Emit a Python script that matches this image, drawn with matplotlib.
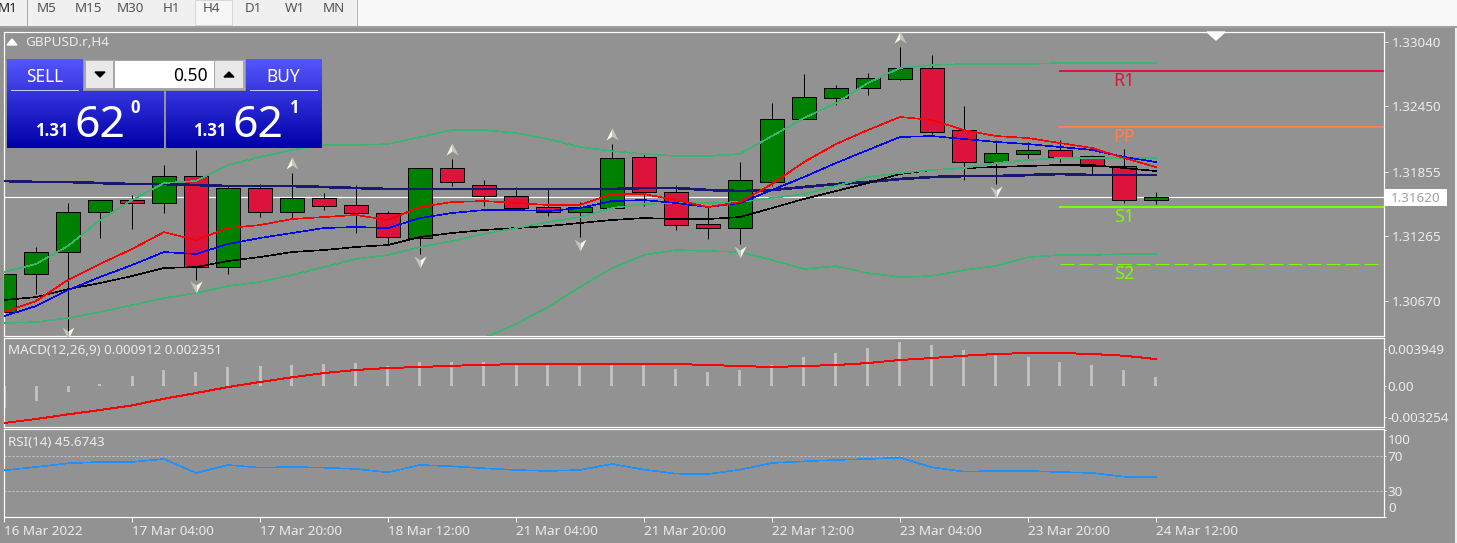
import numpy as np
import matplotlib
matplotlib.use('Agg')
import matplotlib.pyplot as plt
from matplotlib.path import Path
from matplotlib.patches import Rectangle, Polygon

plt.rcParams['font.family'] = ['Noto Sans', 'DejaVu Sans']

W, H = 1457, 543
PX = 0.72  # one pixel in points at dpi 100
THIN = 0.45  # aliased lines grow a pixel, so draw them under one
BG = '#929292'
TXT = '#ECECEC'
RED = '#DC143C'
GREEN = '#008000'
BAND = '#3CB371'

# H4 candles, GBPUSD.r
opens = [1.30574, 1.30920, 1.31121, 1.31486, 1.31595, 1.31568, 1.31814, 1.30984, 1.31705, 1.31486,
         1.31614, 1.31550, 1.31477, 1.31249, 1.31887, 1.31732, 1.31632, 1.31532, 1.31486, 1.31522,
         1.31988, 1.31668, 1.31376, 1.31340, 1.31760, 1.32335, 1.32526, 1.32618, 1.32700, 1.32800,
         1.32234, 1.31942, 1.32015, 1.32052, 1.31997, 1.31906, 1.31595]
closes = [1.30920, 1.31121, 1.31486, 1.31595, 1.31568, 1.31814, 1.30984, 1.31705, 1.31486, 1.31614,
          1.31541, 1.31477, 1.31258, 1.31887, 1.31760, 1.31632, 1.31522, 1.31486, 1.31532, 1.31979,
          1.31668, 1.31367, 1.31340, 1.31778, 1.32335, 1.32535, 1.32618, 1.32709, 1.32800, 1.32216,
          1.31942, 1.32024, 1.32052, 1.31988, 1.31906, 1.31595, 1.31623]
highs = [1.31057, 1.31167, 1.31568, 1.31595, 1.31641, 1.31915, 1.32052, 1.31723, 1.31741, 1.31842,
         1.31659, 1.31732, 1.31495, 1.31887, 1.31970, 1.31778, 1.31714, 1.31705, 1.31577, 1.32106,
         1.32024, 1.31732, 1.31532, 1.31942, 1.32481, 1.32745, 1.32645, 1.32754, 1.32992, 1.32919,
         1.32453, 1.32143, 1.32125, 1.32143, 1.32006, 1.32061, 1.31668]
lows = [1.30574, 1.30738, 1.30364, 1.31249, 1.31331, 1.31477, 1.30866, 1.30920, 1.31440, 1.31422,
        1.31504, 1.31294, 1.31194, 1.31103, 1.31723, 1.31541, 1.31522, 1.31449, 1.31258, 1.31522,
        1.31541, 1.31322, 1.31240, 1.31194, 1.31723, 1.32335, 1.32462, 1.32554, 1.32690, 1.32198,
        1.31778, 1.31741, 1.31970, 1.31942, 1.31833, 1.31568, 1.31559]

ma_red = [1.30574, 1.30674, 1.30866, 1.31012, 1.31148, 1.31303, 1.31230, 1.31340, 1.31367, 1.31422,
          1.31440, 1.31459, 1.31413, 1.31532, 1.31577, 1.31586, 1.31568, 1.31550, 1.31550, 1.31650,
          1.31650, 1.31595, 1.31532, 1.31577, 1.31741, 1.31942, 1.32106, 1.32234, 1.32353, 1.32325,
          1.32234, 1.32179, 1.32161, 1.32115, 1.32070, 1.31979, 1.31896]
ma_blue = [1.30537, 1.30628, 1.30774, 1.30893, 1.31002, 1.31121, 1.31103, 1.31194, 1.31249, 1.31294,
           1.31340, 1.31349, 1.31340, 1.31431, 1.31477, 1.31504, 1.31504, 1.31495, 1.31522, 1.31586,
           1.31595, 1.31568, 1.31532, 1.31568, 1.31687, 1.31805, 1.31933, 1.32052, 1.32170, 1.32179,
           1.32152, 1.32125, 1.32106, 1.32079, 1.32052, 1.31988, 1.31942]
ma_black = [1.30683, 1.30710, 1.30783, 1.30838, 1.30902, 1.30975, 1.30984, 1.31039, 1.31075, 1.31121,
            1.31139, 1.31167, 1.31185, 1.31258, 1.31294, 1.31322, 1.31340, 1.31358, 1.31386, 1.31413,
            1.31431, 1.31422, 1.31422, 1.31440, 1.31522, 1.31605, 1.31677, 1.31750, 1.31833, 1.31869,
            1.31887, 1.31896, 1.31906, 1.31915, 1.31915, 1.31887, 1.31860]
ma_navy = [1.31769, 1.31760, 1.31760, 1.31750, 1.31741, 1.31741, 1.31732, 1.31723, 1.31723, 1.31723,
           1.31714, 1.31705, 1.31696, 1.31696, 1.31696, 1.31696, 1.31696, 1.31696, 1.31696, 1.31696,
           1.31705, 1.31705, 1.31687, 1.31677, 1.31687, 1.31714, 1.31741, 1.31760, 1.31787, 1.31805,
           1.31814, 1.31814, 1.31823, 1.31833, 1.31823, 1.31823, 1.31823]
band_upper = [1.30939, 1.31012, 1.31176, 1.31413, 1.31595, 1.31750, 1.31769, 1.31915, 1.31988, 1.32052,
              1.32097, 1.32097, 1.32106, 1.32170, 1.32234, 1.32234, 1.32207, 1.32152, 1.32079, 1.32042,
              1.32015, 1.31997, 1.31997, 1.32015, 1.32179, 1.32343, 1.32480, 1.32663, 1.32800, 1.32827,
              1.32836, 1.32836, 1.32836, 1.32845, 1.32845, 1.32845, 1.32845]
band_mid = [1.30473, 1.30482, 1.30519, 1.30574, 1.30637, 1.30701, 1.30747, 1.30811, 1.30847, 1.30911,
            1.30984, 1.31057, 1.31094, 1.31167, 1.31221, 1.31285, 1.31340, 1.31395, 1.31440, 1.31522,
            1.31559, 1.31568, 1.31568, 1.31577, 1.31614, 1.31650, 1.31723, 1.31805, 1.31842, 1.31869,
            1.31887, 1.31933, 1.31960, 1.31979, 1.31979, 1.31979, 1.31979]
# lower band only comes into view from candle 15 on
band_lower = [1.30336, 1.30464, 1.30619, 1.30802, 1.30975, 1.31094, 1.31139, 1.31130, 1.31121, 1.31048,
              1.30966, 1.30993, 1.30929, 1.30893, 1.30902, 1.30957, 1.30993, 1.31075, 1.31094, 1.31094,
              1.31103, 1.31103]

fractal_up_idx = [9, 14, 19, 28]
fractal_up = [1.31933, 1.32061, 1.32198, 1.33082]
fractal_dn_idx = [2, 6, 13, 18, 23, 31]
fractal_dn = [1.30382, 1.30802, 1.31030, 1.31185, 1.31121, 1.31668]

pivot_names = ['R1', 'PP', 'S1', 'S2']
pivot_values = [1.32772, 1.32264, 1.31534, 1.31016]
pivot_colors = [RED, '#FF7F50', '#7CFC00', '#7CFC00']

macd_hist = [-0.00231, -0.00158, -0.00063, 0.00028, 0.00105, 0.00175, 0.00147, 0.00200, 0.00210, 0.00228,
             0.00238, 0.00242, 0.00210, 0.00252, 0.00259, 0.00259, 0.00231, 0.00221, 0.00210, 0.00231,
             0.00231, 0.00186, 0.00154, 0.00168, 0.00228, 0.00305, 0.00354, 0.00406, 0.00462, 0.00431,
             0.00378, 0.00340, 0.00305, 0.00259, 0.00228, 0.00168, 0.00100]
macd_signal = [-0.00385, -0.00343, -0.00294, -0.00249, -0.00200, -0.00130, -0.00070, -0.00007, 0.00046, 0.00095,
               0.00140, 0.00172, 0.00193, 0.00203, 0.00217, 0.00224, 0.00235, 0.00235, 0.00235, 0.00235,
               0.00235, 0.00235, 0.00224, 0.00214, 0.00203, 0.00214, 0.00224, 0.00245, 0.00277, 0.00298,
               0.00322, 0.00340, 0.00350, 0.00350, 0.00340, 0.00322, 0.00287]
rsi = [53.8, 57.7, 61.9, 63.5, 63.5, 66.9, 50.8, 60.0, 56.9, 57.7,
       56.9, 55.4, 51.5, 60.0, 58.5, 56.2, 54.2, 53.1, 54.2, 61.2,
       54.6, 50.0, 49.6, 54.6, 62.3, 64.2, 65.8, 66.9, 68.5, 57.3,
       52.3, 53.1, 53.1, 51.9, 50.8, 46.5, 46.2]

price_ticks = [1.30670, 1.31265, 1.31855, 1.32450, 1.33040]
last_price = 1.31620
time_ticks = [0, 4, 8, 12, 16, 20, 24, 28, 32, 36]
time_labels = ['16 Mar 2022', '17 Mar 04:00', '17 Mar 20:00', '18 Mar 12:00', '21 Mar 04:00',
               '21 Mar 20:00', '22 Mar 12:00', '23 Mar 04:00', '23 Mar 20:00', '24 Mar 12:00']
periods = ['M1', 'M5', 'M15', 'M30', 'H1', 'H4', 'D1', 'W1', 'MN']
period_x = [8, 47, 88, 130, 171, 211, 253, 295, 334]

idx = np.arange(len(opens))


def panel(top, bottom):
    ax = fig.add_axes([4 / W, 1 - bottom / H, 1380 / W, (bottom - top) / H])
    ax.set_facecolor(BG)
    ax.set_xlim(0, 1380 / 32)
    for s in ax.spines.values():
        s.set_color('white')
        s.set_linewidth(PX * 1.2)
    ax.yaxis.tick_right()
    ax.tick_params(colors='white', labelcolor=TXT, labelsize=9.7, length=3, width=PX, pad=2.5)
    ax.set_xticks([])
    return ax


fig = plt.figure(figsize=(W / 100, H / 100), dpi=100, facecolor=BG)

# main chart
ax = panel(32, 336)
ax.set_ylim(1.30355, 1.33128)
o, c = np.array(opens), np.array(closes)
colors = [GREEN if b >= a else RED for a, b in zip(opens, closes)]
ax.vlines(idx, lows, highs, color='black', lw=PX, zorder=2)
ax.bar(idx, np.abs(c - o), bottom=np.minimum(o, c), width=0.72, color=colors,
       edgecolor='black', linewidth=PX, zorder=3)
for vals, col, lw in [(ma_navy, '#191970', 1.2), (ma_black, 'black', THIN), (band_upper, BAND, THIN),
                      (band_mid, BAND, THIN), (ma_blue, 'blue', THIN), (ma_red, 'red', THIN)]:
    ax.plot(idx, vals, color=col, lw=lw, zorder=4, antialiased=False)
ax.plot(idx[15:], band_lower, color=BAND, lw=THIN, zorder=4, antialiased=False)
ax.axhline(last_price, color='white', lw=PX * 1.2, zorder=1.5)

for name, val, col in zip(pivot_names, pivot_values, pivot_colors):
    solid = name != 'S2'
    ax.plot([33, 1380 / 32], [val, val], color=col, lw=2 * PX if solid else PX,
            ls='-' if solid else (0, (14, 5)), zorder=2)
    ax.annotate(name, (35, val), xytext=(0, -10.8), textcoords='offset points', ha='center', va='baseline',
                color=col, fontsize=13)

left_half = Path([(0, 1), (-1, -1), (0, -0.35), (0, 1)])
right_half = Path([(0, 1), (1, -1), (0, -0.35), (0, 1)])
ax.scatter(fractal_up_idx, fractal_up, marker=left_half, s=75, color='#FAF6E4', lw=0, zorder=5)
ax.scatter(fractal_up_idx, fractal_up, marker=right_half, s=75, color='#C4C4BC', lw=0, zorder=5)
flip_l = Path([(0, -1), (1, 1), (0, 0.35), (0, -1)])
flip_r = Path([(0, -1), (-1, 1), (0, 0.35), (0, -1)])
ax.scatter(fractal_dn_idx, fractal_dn, marker=flip_l, s=75, color='#FAF6E4', lw=0, zorder=5)
ax.scatter(fractal_dn_idx, fractal_dn, marker=flip_r, s=75, color='#C4C4BC', lw=0, zorder=5)

ax.set_yticks(price_ticks)
ax.set_yticklabels(['%.5f' % p for p in price_ticks])

# MACD
ax2 = panel(338, 427)
ax2.set_ylim(-0.00427, 0.00508)
ax2.bar(idx, macd_hist, width=3 / 32, color='#C0C0C0', zorder=2)
ax2.plot(idx, macd_signal, color='red', lw=0.7, zorder=3, antialiased=False)
ax2.set_yticks([-0.003254, 0, 0.003949])
ax2.set_yticklabels(['-0.003254', '0.00', '0.003949'])
ax2.tick_params(axis='y', length=1.5, pad=1)

# RSI
ax3 = panel(429, 517)
ax3.set_ylim(0, 101.5)
ax3.axhline(70, color='#C8C8C8', lw=PX, ls=(0, (2, 2)))
ax3.axhline(30, color='#C8C8C8', lw=PX, ls=(0, (2, 2)))
ax3.plot(idx, rsi, color='#1E90FF', lw=THIN, zorder=3, antialiased=False)
ax3.set_yticks([0, 30, 70, 100])
ax3.set_yticklabels(['', '30', '70', ''])
ax3.tick_params(axis='y', length=1.5, pad=1)
ax3.set_xticks(time_ticks)
ax3.set_xticklabels(time_labels, ha='left')
ax3.tick_params(axis='x', bottom=True, labelbottom=True, length=3.5, pad=2.5)

# terminal chrome drawn in pixels on top
ui = fig.add_axes([0, 0, 1, 1], zorder=10)
ui.set_xlim(0, W)
ui.set_ylim(H, 0)
ui.axis('off')
ui.patch.set_alpha(0)


def rect(x0, y0, x1, y1, col, **kw):
    ui.add_patch(Rectangle((x0, y0), x1 - x0, y1 - y0, facecolor=col, edgecolor=kw.pop('ec', 'none'),
                           lw=kw.pop('lw', 0), **kw))


def grad(x0, y0, x1, y1, c0, c1):
    c0 = np.array(matplotlib.colors.to_rgb(c0))
    c1 = np.array(matplotlib.colors.to_rgb(c1))
    t = np.linspace(0, 1, 64)[:, None]
    ui.imshow((c0 + (c1 - c0) * t)[:, None, :], extent=(x0, x1, y1, y0), aspect='auto', zorder=2)


rect(0, 0, W, 27, '#F0F0F0')
rect(0, 26, W, 28, '#A0A0A0')
rect(358, 0, W, 26, '#F8F8F8')
rect(27, 0, 28, 26, '#A8A8A8')
rect(357, 0, 358, 26, '#B8B8B8')
rect(195, 0, 232, 25, '#F6F6F6', ec='#D8D8D8', lw=PX)
rect(1455, 28, W, H, '#EFEFEF')
for name, x in zip(periods, period_x):
    ui.text(x, 9, name, ha='center', va='center', fontsize=9.7, color='#222222' if name == 'M1' else '#555555')

# last price flag and the labels a normal tick can't place
rect(1385, 189, 1447, 206, 'white')
ui.text(1391, 198, '%.5f' % last_price, va='center', color='#A0A0A0', fontsize=9.7)
ui.text(1388, 440, '100', va='center', color=TXT, fontsize=9.7)
ui.text(1388, 508, '0', va='center', color=TXT, fontsize=9.7)

ui.text(25, 43, 'GBPUSD.r,H4', va='center', color=TXT, fontsize=9.7)
ui.add_patch(Polygon([(7, 45), (17, 45), (12, 39)], color='white'))
ui.add_patch(Polygon([(1207, 32), (1225, 32), (1216, 40)], color='white'))
ui.text(8, 350, 'MACD(12,26,9) 0.000912 0.002351', va='center', color=TXT, fontsize=9.7)
ui.text(8, 442, 'RSI(14) 45.6743', va='center', color=TXT, fontsize=9.7)

# one click trading box
grad(7, 59, 83, 91, '#5555FF', '#3838DD')
grad(246, 59, 322, 91, '#5555FF', '#3838DD')
grad(7, 91, 164, 148, '#3535E0', '#0000A8')
grad(166, 91, 322, 148, '#3535E0', '#0000A8')
rect(84, 60, 245, 90, '#A8A8A8')
rect(86, 61, 113, 88, '#E8E8E8')
rect(115, 61, 214, 88, 'white')
rect(215, 61, 243, 88, '#E8E8E8')
ui.add_patch(Polygon([(95, 72), (105, 72), (100, 77)], color='black', zorder=3))
ui.add_patch(Polygon([(224, 77), (234, 77), (229, 72)], color='black', zorder=3))
rect(11, 90, 79, 91, '#C8C8FF', zorder=3)
rect(250, 90, 318, 91, '#C8C8FF', zorder=3)
ui.text(45, 82, 'SELL', ha='center', va='baseline', color='white', fontsize=12.5, zorder=4)
ui.text(283, 82, 'BUY', ha='center', va='baseline', color='white', fontsize=12.5, zorder=4)
ui.text(208, 81, '0.50', ha='right', va='baseline', color='black', fontsize=12.5, zorder=4)
bold = dict(color='white', fontsize=12, fontweight='bold', family='Open Sans', ha='center', va='baseline', zorder=4)
big = dict(color='white', fontsize=32, ha='center', va='baseline', zorder=4)
ui.text(52, 136, '1.31', **bold)
ui.text(100, 137, '62', **big)
ui.text(135, 113, '0', **bold)
ui.text(210, 136, '1.31', **bold)
ui.text(258, 137, '62', **big)
ui.text(294, 113, '1', **bold)
ui.set_xlim(0, W)
ui.set_ylim(H, 0)

fig.savefig('out.png', dpi=100, facecolor=fig.get_facecolor())
